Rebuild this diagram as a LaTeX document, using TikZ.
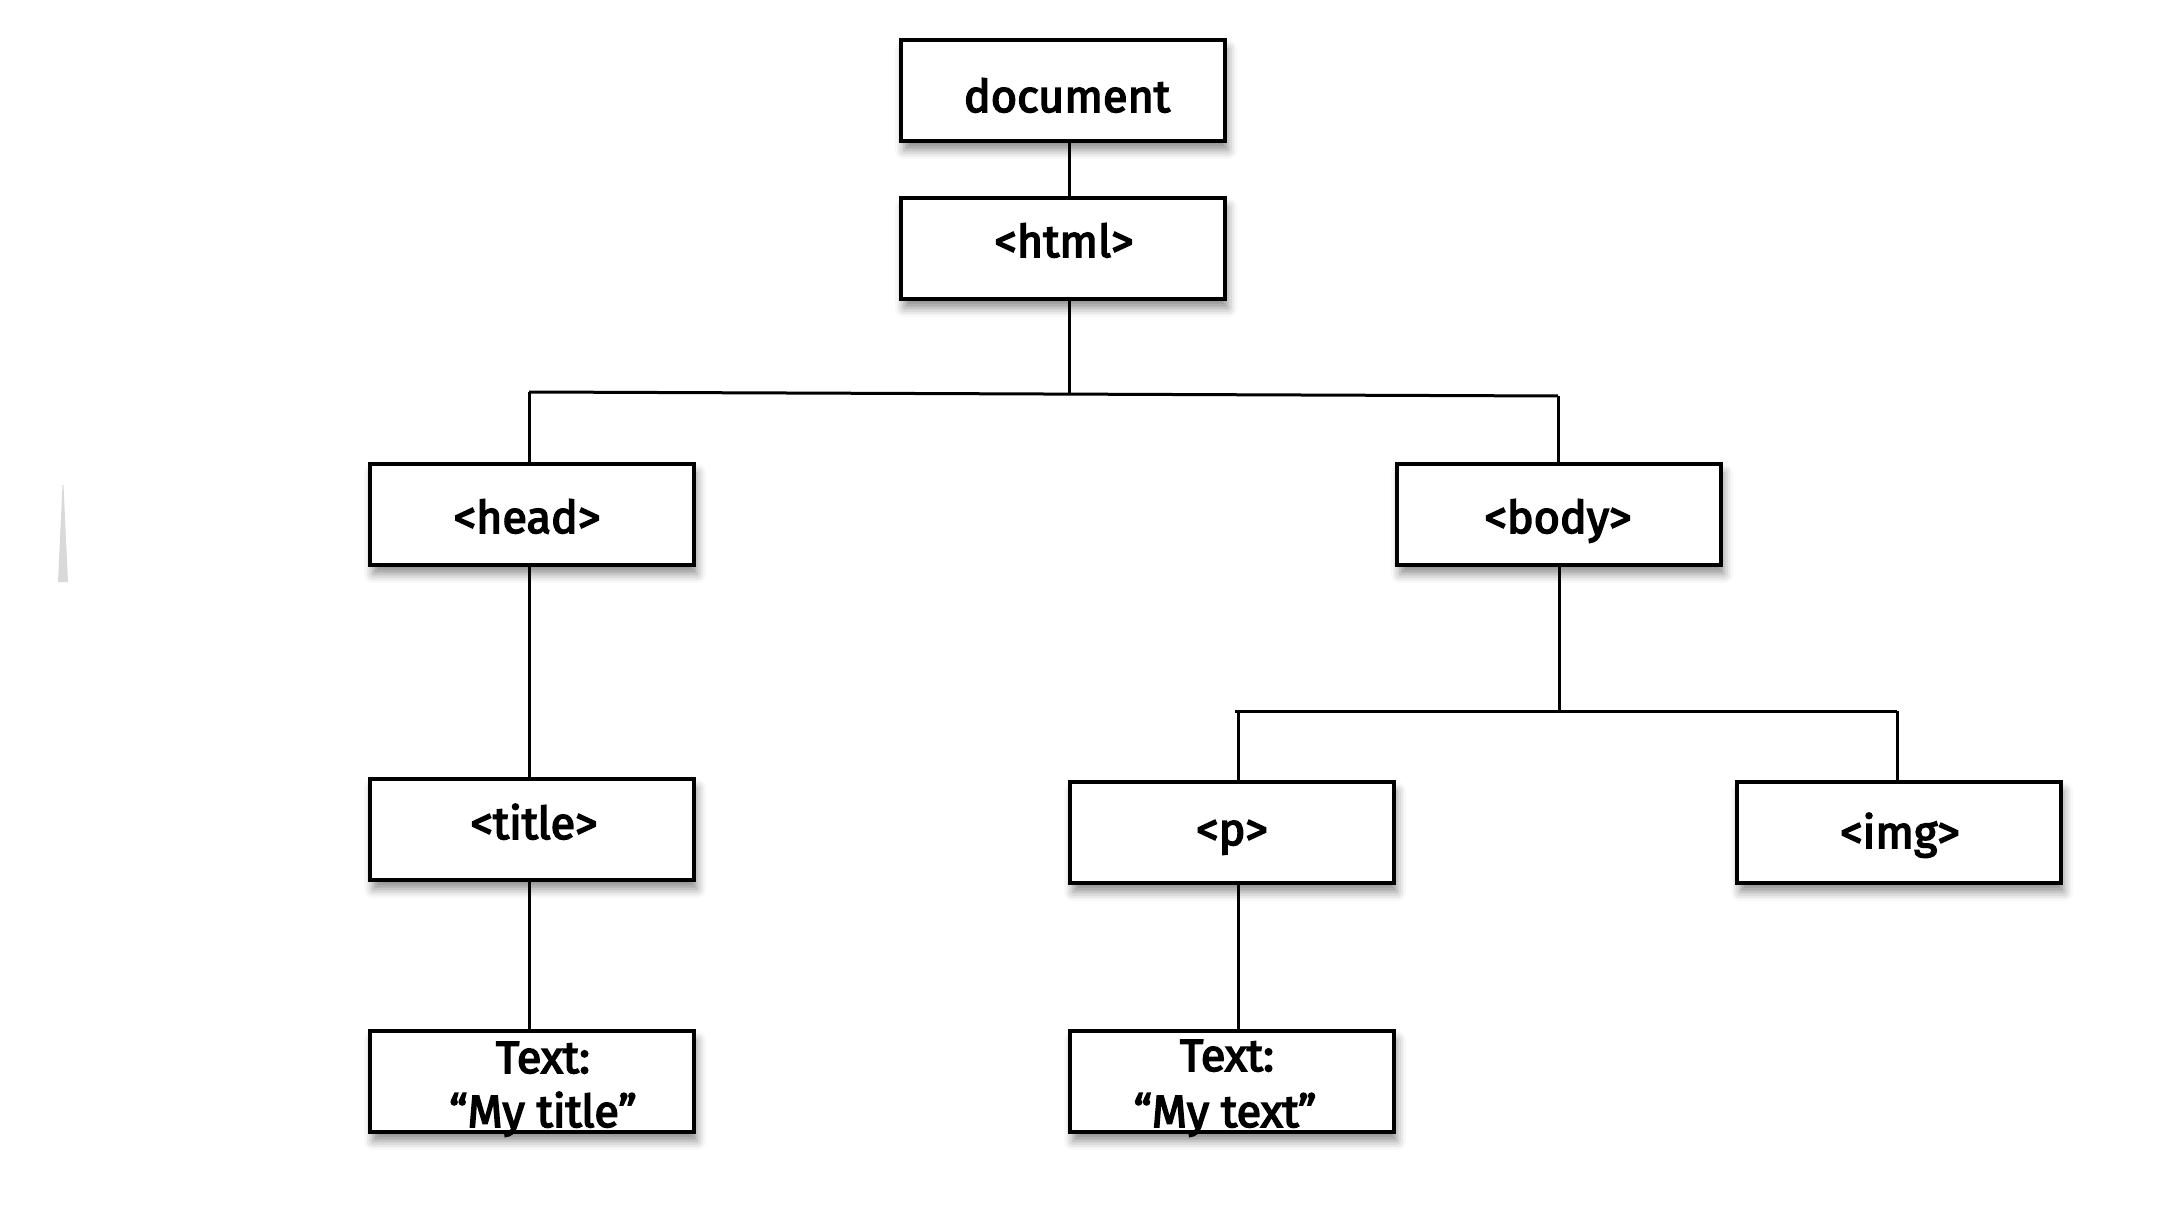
\documentclass[tikz,border=0pt]{standalone}
\usepackage{fontspec}
\setmainfont{Fira Sans}
\newfontfamily\medfont{Fira Sans}[FakeBold=3.5]
\usetikzlibrary{shadows.blur}
\tikzset{
  box/.style={draw, line width=3.5pt, fill=white, minimum width=324pt, minimum height=101pt, inner sep=0pt,
    blur shadow={shadow xshift=3pt, shadow yshift=-9pt, shadow blur radius=9pt, shadow opacity=45}},
  lbl/.style={font=\fontsize{45}{54}\selectfont\medfont, inner sep=0pt, anchor=base},
  conn/.style={line width=3pt}
}
\begin{document}
\begin{tikzpicture}[x=1pt,y=-1pt]
\useasboundingbox (0,0) rectangle (2172,1230);
\fill[gray!30] (58,582) -- (68,582) -- (63.5,485) -- (62.5,485) -- cycle;
% connector points
\coordinate (busL) at (529,392);
\coordinate (busM) at (1069,394);
\coordinate (busR) at (1558,396);
\coordinate (bus2L) at (1235,711);
\coordinate (bus2P) at (1238,711);
\coordinate (bus2M) at (1559,711);
\coordinate (bus2R) at (1897,711);
% boxes
\node[box] (doc) at (1063,90.5) {};
\node[box] (html) at (1063,248.5) {};
\node[box] (head) at (532,514.5) {};
\node[box] (body) at (1559,514.5) {};
\node[box] (title) at (532,829.5) {};
\node[box] (p) at (1232,832.5) {};
\node[box] (img) at (1899,832.5) {};
\node[box] (t1) at (532,1081.5) {};
\node[box] (t2) at (1232,1081.5) {};
% connectors
\draw[conn] (doc.south -| busM) -- (html.north -| busM);
\draw[conn] (html.south -| busM) -- (busM);
\draw[conn] (busL) -- (busR);
\draw[conn] (busL) -- (head.north -| busL);
\draw[conn] (busR) -- (body.north -| busR);
\draw[conn] (head.south -| busL) -- (title.north -| busL);
\draw[conn] (title.south -| busL) -- (t1.north -| busL);
\draw[conn] (body.south) -- (bus2M);
\draw[conn] (bus2L) -- (bus2R);
\draw[conn] (bus2P) -- (p.north -| bus2P);
\draw[conn] (bus2R) -- (img.north -| bus2R);
\draw[conn] (p.south -| bus2P) -- (t2.north -| bus2P);
% labels
\node[lbl] (ldoc) at (1067,112) {document};
\node[lbl] (lhtml) at (1064,257) {<html>};
\node[lbl] (lhead) at (527,533) {<head>};
\node[lbl] (lbody) at (1558,533) {<body>};
\node[lbl] (ltitle) at (534,839) {<title>};
\node[lbl] (lp) at (1232,845) {<p>};
\node[lbl] (limg) at (1900,848) {<img>};
\node[lbl] (lt1a) at (543,1073) {Text:};
\node[lbl] (lt1b) at (543,1127) {“My title”};
\node[lbl] (lt2a) at (1227,1071) {Text:};
\node[lbl] (lt2b) at (1225,1127) {“My text”};
\end{tikzpicture}
\end{document}
